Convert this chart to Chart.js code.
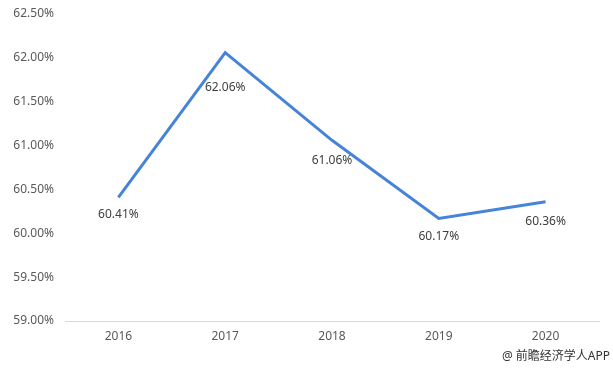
<!DOCTYPE html>
<html>
<head>
<meta charset="utf-8">
<script src="https://cdn.jsdelivr.net/npm/chart.js@4/dist/chart.umd.min.js"></script>
<style>
  html, body { margin: 0; padding: 0; background: #fff; }
  #wrap { width: 613px; height: 371px; position: relative; }
</style>
</head>
<body>
<div id="wrap"><canvas id="lineChart"></canvas></div>
<script>
const years = ['2016', '2017', '2018', '2019', '2020'];
const shares = [60.41, 62.06, 61.06, 60.17, 60.36];
const yTicks = [59.0, 59.5, 60.0, 60.5, 61.0, 61.5, 62.0, 62.5];

const fontFamily = "'Noto Sans', 'Noto Sans CJK SC', sans-serif";

// label di bawah titik, 2017 agak lebih ke bawah seperti aslinya
const labelOffsets = [17, 35, 20, 18, 20];

const pointLabels = {
    id: 'pointLabels',
    afterDatasetsDraw(chart) {
        const ctx = chart.ctx;
        const meta = chart.getDatasetMeta(0);
        ctx.save();
        ctx.font = "12px " + fontFamily;
        ctx.fillStyle = '#404040';
        ctx.textAlign = 'center';
        ctx.textBaseline = 'middle';
        meta.data.forEach((pt, i) => {
            ctx.fillText(shares[i].toFixed(2) + '%', pt.x, pt.y + labelOffsets[i]);
        });
        ctx.restore();
    }
};

const sourceNote = {
    id: 'sourceNote',
    afterDraw(chart) {
        const ctx = chart.ctx;
        ctx.save();
        ctx.font = "12px " + fontFamily;
        ctx.fillStyle = '#333';
        ctx.textAlign = 'right';
        ctx.textBaseline = 'middle';
        ctx.fillText('@ 前瞻经济学人APP', 610, 357);
        ctx.restore();
    }
};

new Chart(document.getElementById('lineChart'), {
    type: 'line',
    data: {
        labels: years,
        datasets: [{
            data: shares,
            borderColor: '#4584d6',
            borderWidth: 3,
            pointRadius: 0,
            tension: 0,
            fill: false
        }]
    },
    options: {
        responsive: true,
        maintainAspectRatio: false,
        animation: false,
        layout: { padding: { top: 0, right: 14, bottom: 26, left: 0 } },
        plugins: { legend: { display: false }, tooltip: { enabled: false } },
        scales: {
            x: {
                offset: true,
                grid: { display: false, drawTicks: false, offset: true },
                border: { display: true, color: '#d9d9d9', width: 1 },
                ticks: { color: '#595959', font: { family: fontFamily, size: 12 }, padding: 8 },
                afterFit: s => { s.height = 24; }
            },
            y: {
                min: yTicks[0],
                max: yTicks[yTicks.length - 1],
                afterBuildTicks: s => { s.ticks = yTicks.map(v => ({ value: v })); },
                grid: { display: false, drawTicks: false },
                border: { display: false },
                ticks: {
                    color: '#595959',
                    font: { family: fontFamily, size: 12, lineHeight: 1 },
                    padding: 11,
                    callback: v => v.toFixed(2) + '%'
                },
                afterFit: s => { s.width = 65; s.paddingTop = 14; }
            }
        }
    },
    plugins: [pointLabels, sourceNote]
});
</script>
</body>
</html>
